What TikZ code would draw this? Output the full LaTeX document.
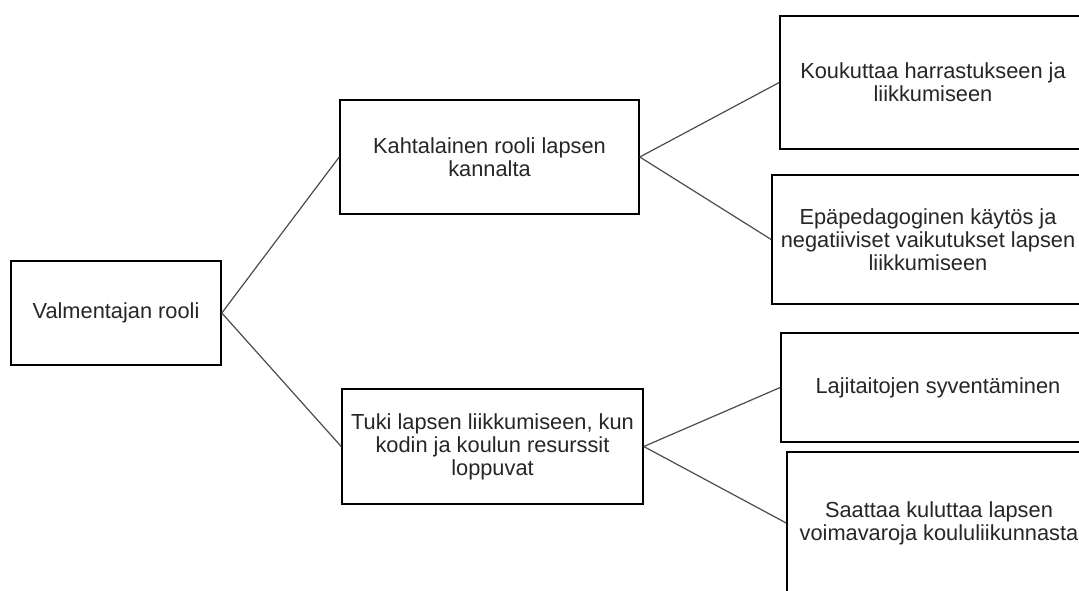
\documentclass[tikz,border=0pt]{standalone}
\usepackage{fontspec}
\setmainfont{Liberation Sans}
\begin{document}
\begin{tikzpicture}[x=1pt,y=-1pt,
  box/.style={draw=black, line width=1.6pt, fill=white, rectangle, inner sep=0pt,
    align=center, text=black!85,
    font=\fontsize{21.8}{23}\selectfont},
  link/.style={draw=black!70, line width=1.2pt}]
  \useasboundingbox (0,0) rectangle (1079,590);
  \clip (0,0) rectangle (1079,590);
  \fill[white] (0,0) rectangle (1079,590);

  % root
  \node[box, minimum width=210, minimum height=104] (root) at (116,313) {Valmentajan rooli};

  % second level
  \node[box, minimum width=299, minimum height=114] (dual) at (489.5,157)
    {Kahtalainen rooli lapsen\\kannalta};
  \node[box, minimum width=301, minimum height=115] (support) at (492.5,446.5)
    {Tuki lapsen liikkumiseen, kun\\kodin ja koulun resurssit\\loppuvat};

  % third level
  \node[box, minimum width=306, minimum height=133] (hook) at (933,82.5)
    {Koukuttaa harrastukseen ja\\liikkumiseen};
  \node[box, minimum width=312, minimum height=129] (neg) at (928,239.5)
    {Epäpedagoginen käytös ja\\negatiiviset vaikutukset lapsen\\liikkumiseen};
  \node[box, minimum width=314, minimum height=109] (skills) at (938,387.5)
    {Lajitaitojen syventäminen};
  \node[box, minimum width=304, minimum height=142] (drain) at (939,523)
    {Saattaa kuluttaa lapsen\\voimavaroja koululiikunnasta};

  % connectors
  \draw[link] (root.east) -- (dual.west);
  \draw[link] (root.east) -- (support.west);
  \draw[link] (dual.east) -- (hook.west);
  \draw[link] (dual.east) -- (neg.west);
  \draw[link] (support.east) -- (skills.west);
  \draw[link] (support.east) -- (drain.west);
\end{tikzpicture}
\end{document}
